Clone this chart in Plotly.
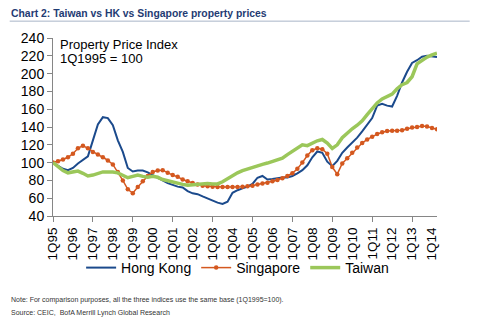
import plotly.graph_objects as go

years = [f"{y:02d}" for y in list(range(95, 100)) + list(range(0, 15))]
quarters = [f"{q}Q{yy}" for yy in years for q in (1, 2, 3, 4)][:78]  # 1Q95 .. 2Q14
tick_labels = [f"1Q{yy}" for yy in years]

hong_kong = [100, 96, 93, 91.5, 94, 99, 103, 107, 125, 143, 151, 150, 142, 125, 112, 94,
             90, 91, 91, 89, 86, 83, 80, 77, 75, 73, 72, 68, 65.5, 64.5, 62, 59.6,
             57, 55, 53.5, 56, 66, 69, 71, 73, 76, 83, 85, 81, 81.5, 82.5, 83.3, 83.3,
             85, 88, 91.5, 97, 106, 112.5, 111, 101, 96, 102, 111, 117, 122, 128, 135, 142,
             150, 164, 166, 164, 163, 175, 190, 202, 212, 215, 219, 220, 219.5, 218.5]
singapore = [100, 101.5, 103.5, 106, 110, 116, 119, 116, 112, 109, 106, 102.5, 98, 89.5, 80, 70,
             65.5, 72.5, 79, 85, 89.5, 91, 91.5, 88.5, 86, 84, 81, 79, 77, 75.5, 74, 73.5,
             73, 72.7, 72.5, 72.5, 72.5, 72.7, 73, 73.5, 74, 75.5, 76.5, 77.5, 79, 80.5, 82.5, 85,
             88, 93, 100, 108, 114, 116, 115, 110, 95, 87, 99, 105, 111, 117, 122, 126,
             129, 132, 134, 135.5, 135.8, 135.8, 136.3, 138, 139.3, 140, 141, 140.5, 139, 137.5]
taiwan = [100, 95, 91, 88.5, 89.5, 90.5, 88, 85, 86, 87.5, 89.5, 89.5, 89.5, 88.5, 86, 83,
          84.5, 86, 84.5, 83.5, 84.5, 83.5, 81, 79.5, 78, 76.5, 75.5, 74.5, 75, 76, 76.5, 76.5,
          76, 76, 78.5, 82, 85, 88.5, 91, 93, 95, 96.5, 98, 99.5, 101, 103, 105, 109,
          113, 117, 120, 119, 122, 124.5, 126, 122, 116, 120, 128, 133.5, 138, 142, 147, 154,
          161, 167, 171.5, 174, 177, 183, 187.5, 190, 196.5, 211, 215, 218.5, 221, 223]

y_ticks = list(range(40, 241, 20))

FONT = "Liberation Sans, Arial, sans-serif"
AXIS_GREY = "#868686"

L, T, W, H = 53.3, 38.3, 384.0, 177.4

idx = list(range(len(quarters)))

fig = go.Figure()
fig.add_trace(go.Scatter(x=idx, y=hong_kong, name="Hong Kong", mode="lines",
                         line=dict(color="#1B4A8C", width=2), text=quarters, hoverinfo="text+y"))
fig.add_trace(go.Scatter(x=idx, y=singapore, name="Singapore", mode="lines+markers",
                         line=dict(color="#D4581F", width=1.5),
                         marker=dict(color="#D4581F", size=4.5, symbol="circle"),
                         text=quarters, hoverinfo="text+y"))
fig.add_trace(go.Scatter(x=idx, y=taiwan, name="Taiwan", mode="lines",
                         line=dict(color="#9BC75A", width=3.5), text=quarters, hoverinfo="text+y"))
# helper trace for the secondary axis that carries the tick marks
fig.add_trace(go.Scatter(x=[0], y=[None], xaxis="x2", showlegend=False, hoverinfo="skip"))

fig.update_layout(
    width=481, height=324,
    margin=dict(l=L, r=481 - L - W, t=T, b=324 - T - H, autoexpand=False),
    paper_bgcolor="white", plot_bgcolor="white",
    font=dict(family=FONT, size=14, color="black"),
    showlegend=True,
    legend=dict(orientation="h", xref="container", yref="container",
                x=0.494, xanchor="center", y=1 - 268 / 324, yanchor="middle",
                font=dict(size=14), bgcolor="rgba(0,0,0,0)", tracegroupgap=0),
    xaxis=dict(range=[0, 77], tickmode="array", automargin=False,
               tickvals=[i * 4 for i in range(len(tick_labels))], ticktext=tick_labels,
               tickangle=-90, ticks="outside", ticklen=5, tickcolor="rgba(0,0,0,0)",
               showline=True, linecolor=AXIS_GREY, linewidth=1, showgrid=False,
               zeroline=False, tickfont=dict(size=13.5)),
    xaxis2=dict(range=[0, 77], overlaying="x", side="bottom", anchor="y", automargin=False,
                tickmode="array", tickvals=list(range(0, 77, 8)), showticklabels=False,
                ticks="outside", ticklen=5, tickcolor=AXIS_GREY, showline=False,
                showgrid=False, zeroline=False),
    yaxis=dict(range=[40, 240], tickmode="array", tickvals=y_ticks, automargin=False,
               ticks="outside", ticklen=5, tickcolor=AXIS_GREY,
               showline=True, linecolor=AXIS_GREY, linewidth=1, showgrid=False,
               zeroline=False, tickfont=dict(size=14)),
)


def px_x(x):
    return (x - L) / W


def px_y(y):
    return 1 - (y - T) / H


fig.add_annotation(text="Property Price Index", xref="paper", yref="paper",
                   x=px_x(58), y=px_y(45), xanchor="left", yanchor="middle",
                   showarrow=False, font=dict(size=13))
fig.add_annotation(text="1Q1995 = 100", xref="paper", yref="paper",
                   x=px_x(58), y=px_y(58.3), xanchor="left", yanchor="middle",
                   showarrow=False, font=dict(size=13))

fig.add_annotation(text="<b>Chart 2: Taiwan vs HK vs Singapore property prices</b>",
                   xref="paper", yref="paper", x=px_x(9), y=px_y(14),
                   xanchor="left", yanchor="middle", showarrow=False,
                   font=dict(size=10.4, color="#1F3B73"))
fig.add_shape(type="line", xref="paper", yref="paper",
              x0=px_x(10), x1=px_x(470), y0=px_y(21.5), y1=px_y(21.5),
              line=dict(color="#A9B4C8", width=1))

fig.add_annotation(text="Note: For comparison purposes, all the three indices use the same base (1Q1995=100).",
                   xref="paper", yref="paper", x=px_x(9), y=px_y(299.3),
                   xanchor="left", yanchor="middle", showarrow=False,
                   font=dict(size=7, color="#333333"))
fig.add_annotation(text="Source: CEIC,  BofA Merrill Lynch Global Research",
                   xref="paper", yref="paper", x=px_x(9), y=px_y(312),
                   xanchor="left", yanchor="middle", showarrow=False,
                   font=dict(size=7, color="#333333"))

fig.write_html("out.html")
